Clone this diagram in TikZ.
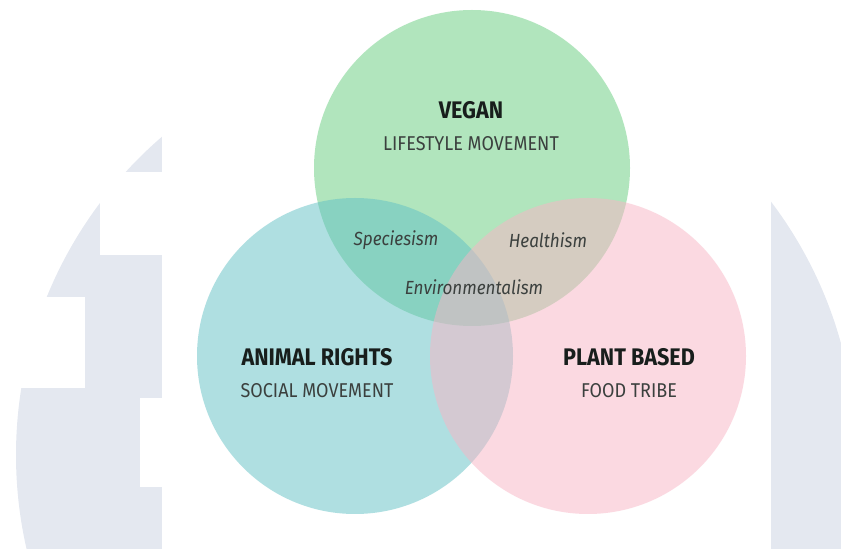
\documentclass[tikz,border=0pt]{standalone}
\usepackage{fontspec}
\setmainfont[FakeStretch=0.9]{Fira Sans}
\usetikzlibrary{positioning}

\definecolor{vegangreen}{RGB}{101,205,125}
\definecolor{rightsteal}{RGB}{97,193,197}
\definecolor{plantpink}{RGB}{249,181,197}
\definecolor{markgray}{RGB}{228,232,240}
\definecolor{inkdark}{RGB}{24,30,28}

\begin{document}
\begin{tikzpicture}[
    x=1pt, y=1pt,
    set/.style={fill opacity=0.5},
    title/.style={font=\fontsize{24}{26}\selectfont\bfseries, text=inkdark, inner sep=0pt},
    sub/.style={font=\fontsize{20}{22}\selectfont, text=inkdark!85, inner sep=0pt},
    term/.style={font=\fontsize{19}{21}\selectfont\itshape, text=inkdark!85, inner sep=0pt}
  ]
    \useasboundingbox (0,0) rectangle (841,549);

    % faded logo behind the diagram
    \begin{scope}
      \clip (0,0) rectangle (841,549);
      \fill[markgray] (436,94) circle (420);
    \end{scope}
    \fill[white] (100,294) rectangle (162,377);
    \fill[white] (0,161) rectangle (85,252);
    \fill[white] (140,62) rectangle (162,151);
    \fill[white] (162,0) rectangle (771,549);

    % the three sets
    \fill[vegangreen, set] (472,381) circle (158);
    \fill[rightsteal, set] (355,193) circle (158);
    \fill[plantpink, set] (588,193) circle (158);

    % set names
    \node[title] (vegan) at (471,439) {VEGAN};
    \node[sub] (lifestyle) [below=17pt of vegan] {LIFESTYLE MOVEMENT};

    \node[title] (rights) at (317,192) {ANIMAL RIGHTS};
    \node[sub] (social) [below=17pt of rights] {SOCIAL MOVEMENT};

    \node[title] (plant) at (629,192) {PLANT BASED};
    \node[sub] (tribe) [below=17pt of plant] {FOOD TRIBE};

    % overlaps
    \node[term] (speciesism) at (396,309) {Speciesism};
    \node[term] (healthism) at (548,309) {Healthism};
    \node[term] (enviro) at (474,262) {Environmentalism};
\end{tikzpicture}
\end{document}
